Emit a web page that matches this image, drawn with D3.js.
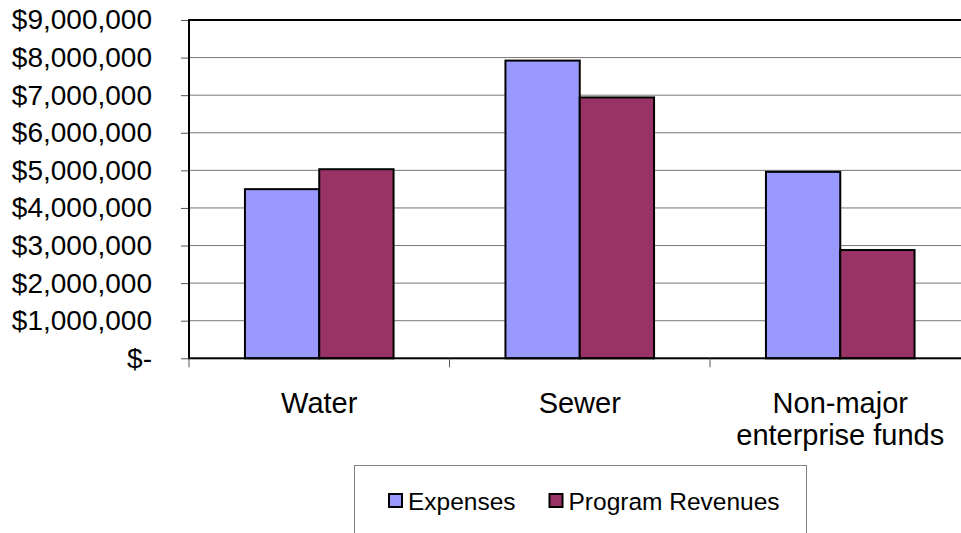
<!DOCTYPE html>
<html>
<head>
<meta charset="utf-8">
<script src="https://cdn.jsdelivr.net/npm/d3@7"></script>
<style>
  html, body { margin: 0; padding: 0; background: #fff; }
  svg { display: block; font-family: "Liberation Sans", Arial, sans-serif; }
</style>
</head>
<body>
<svg id="chart" width="961" height="533"></svg>
<script>
// Enterprise fund expenses vs. program revenues
const categories = ["Water", "Sewer", "Non-major\nenterprise funds"];
const seriesNames = ["Expenses", "Program Revenues"];
const expenses = [4500000, 7920000, 4960000];
const revenues = [5030000, 6940000, 2880000];
const yTicks = [0, 1000000, 2000000, 3000000, 4000000, 5000000, 6000000, 7000000, 8000000, 9000000];
const colors = ["#9999FF", "#993366"];

const svg = d3.select("#chart");

const plot = { left: 189, top: 20, right: 970.5, bottom: 358.3 };

const x0 = d3.scaleBand().domain(categories).range([plot.left, plot.right]).paddingInner(0).paddingOuter(0);
const x1 = d3.scaleBand().domain(seriesNames).range([0, x0.bandwidth()]).paddingInner(0).paddingOuter(0.753);
const y = d3.scaleLinear().domain([0, 9000000]).range([plot.bottom, plot.top]);
const color = d3.scaleOrdinal().domain(seriesNames).range(colors);

const fmt = v => v === 0 ? "$-" : "$" + d3.format(",")(v);

// horizontal gridlines
svg.append("g")
  .selectAll("line")
  .data(yTicks.filter(v => v > 0))
  .join("line")
  .attr("x1", plot.left).attr("x2", plot.right)
  .attr("y1", d => y(d)).attr("y2", d => y(d))
  .attr("stroke", "#777").attr("stroke-width", 1);

// y axis with outward ticks and currency labels
const yAxis = svg.append("g")
  .attr("transform", `translate(${plot.left},0)`)
  .call(d3.axisLeft(y).tickValues(yTicks).tickFormat(fmt).tickSize(8).tickPadding(29));
yAxis.select(".domain").remove();
yAxis.selectAll(".tick line").attr("stroke", "#555").attr("stroke-width", 1);
yAxis.selectAll(".tick text")
  .attr("fill", "#000")
  .style("font-family", "'Liberation Sans', Arial, sans-serif")
  .style("font-size", "28px");

// bars
const rows = categories.map((c, i) => ({ cat: c, values: [
  { key: seriesNames[0], value: expenses[i] },
  { key: seriesNames[1], value: revenues[i] }
]}));

svg.append("g")
  .selectAll("g")
  .data(rows)
  .join("g")
  .attr("transform", d => `translate(${x0(d.cat)},0)`)
  .selectAll("rect")
  .data(d => d.values)
  .join("rect")
  .attr("x", d => x1(d.key))
  .attr("width", x1.bandwidth())
  .attr("y", d => y(d.value))
  .attr("height", d => y(0) - y(d.value))
  .attr("fill", d => color(d.key))
  .attr("stroke", "#000")
  .attr("stroke-width", 2);

// plot frame
svg.append("rect")
  .attr("x", plot.left).attr("y", plot.top)
  .attr("width", plot.right - plot.left).attr("height", plot.bottom - plot.top)
  .attr("fill", "none").attr("stroke", "#000").attr("stroke-width", 2);

// category tick marks at band boundaries
const boundaries = categories.map(c => x0(c)).concat([plot.right]);
svg.append("g")
  .selectAll("line")
  .data(boundaries)
  .join("line")
  .attr("x1", d => d).attr("x2", d => d)
  .attr("y1", plot.bottom).attr("y2", plot.bottom + 9)
  .attr("stroke", "#555").attr("stroke-width", 1);

// category labels
svg.append("g")
  .selectAll("text")
  .data(categories)
  .join("text")
  .attr("x", d => x0(d) + x0.bandwidth() / 2)
  .attr("y", 413)
  .attr("text-anchor", "middle")
  .attr("font-size", 29)
  .attr("fill", "#000")
  .each(function(d) {
    const lines = d.split("\n");
    d3.select(this).selectAll("tspan")
      .data(lines)
      .join("tspan")
      .attr("x", x0(d) + x0.bandwidth() / 2)
      .attr("dy", (l, i) => i === 0 ? 0 : 32)
      .text(l => l);
  });

// legend
const legend = svg.append("g");
legend.append("rect")
  .attr("x", 354.5).attr("y", 465.5)
  .attr("width", 452).attr("height", 100)
  .attr("fill", "#fff").attr("stroke", "#808080").attr("stroke-width", 1);

const legendX = [389, 549.5];
const items = legend.selectAll("g.item")
  .data(seriesNames)
  .join("g")
  .attr("class", "item")
  .attr("transform", (d, i) => `translate(${legendX[i]},494)`);
items.append("rect")
  .attr("x", 0).attr("y", 0).attr("width", 13).attr("height", 13)
  .attr("fill", d => color(d)).attr("stroke", "#000").attr("stroke-width", 2);
items.append("text")
  .attr("x", 19).attr("y", 16)
  .attr("font-size", 24.5)
  .attr("fill", "#000")
  .text(d => d);
</script>
</body>
</html>
